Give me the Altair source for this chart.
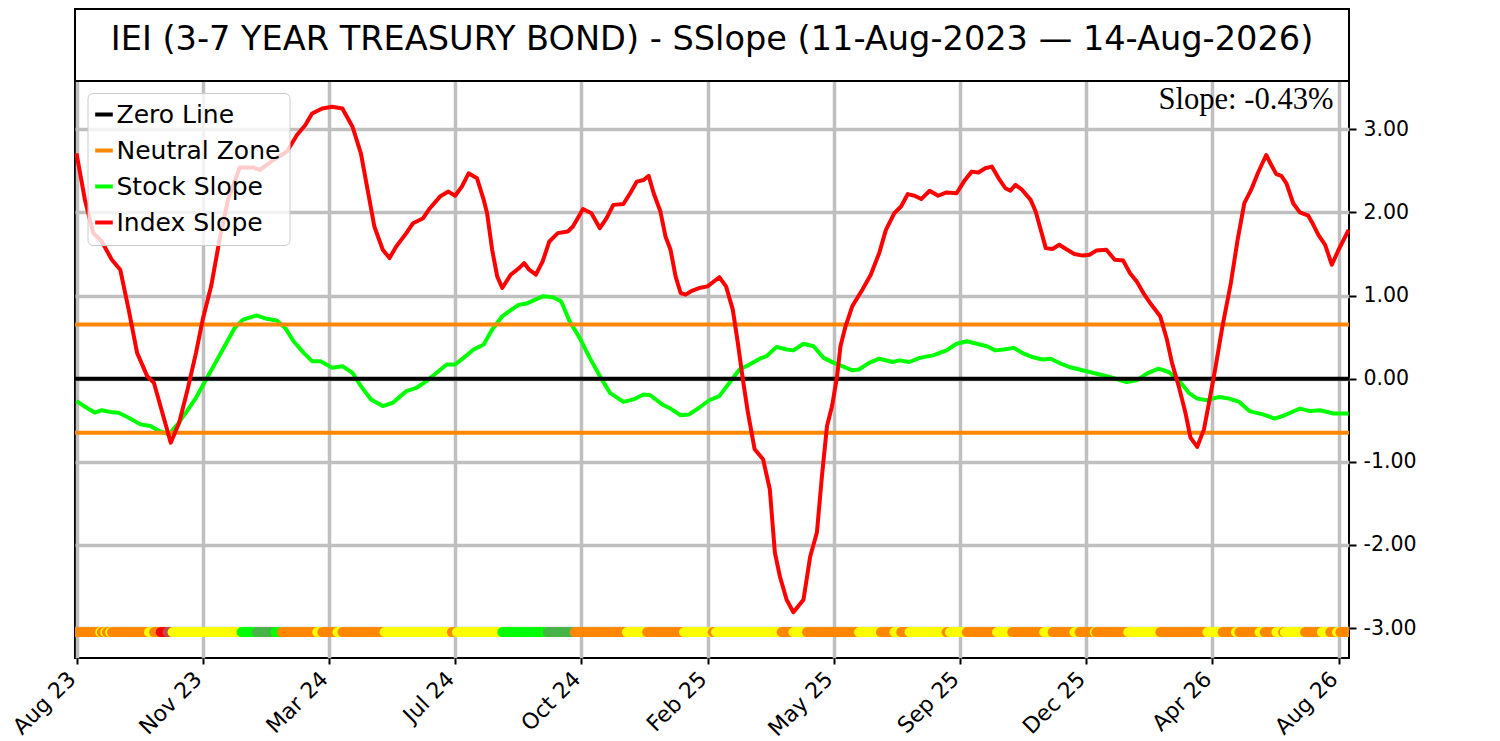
import json
import altair as alt
import pandas as pd

TITLE = "IEI (3-7 YEAR TREASURY BOND) - SSlope (11-Aug-2023 \u2014 14-Aug-2026)"
SLOPE_TEXT = "Slope: -0.43%"

# trading-day index and slope values
INDEX_DAYS = [0, 5, 10, 15, 21, 26, 31, 36, 42, 46, 51, 56, 61, 66, 71, 75, 80, 85, 90, 97,
              105, 109, 117, 125, 131, 136, 140, 146, 152, 158, 164, 169, 173, 177, 182, 186, 190, 196, 200, 206,
              210, 216, 221, 225, 229, 233, 238, 242, 244, 247, 250, 253, 258, 263, 266, 269, 273, 277, 281, 286,
              292, 295, 301, 306, 311, 315, 319, 325, 329, 333, 337, 340, 343, 347, 350, 353, 356, 359, 362, 366,
              370, 375, 382, 386, 390, 393, 396, 399, 403, 408, 412, 415, 418, 422, 426, 432, 436, 440, 443, 446,
              449, 452, 454, 457, 461, 467, 472, 477, 481, 486, 490, 494, 498, 502, 507, 512, 517, 523, 528, 532,
              536, 540, 544, 548, 552, 555, 558, 562, 567, 570, 573, 576, 580, 584, 588, 593, 598, 602, 606, 612,
              617, 622, 626, 630, 634, 638, 644, 648, 651, 655, 659, 662, 666, 670, 673, 677, 681, 686, 690, 694,
              698, 702, 707, 710, 713, 716, 719, 723, 727, 732, 735, 738, 742, 746, 750, 756]
INDEX_VALS = [2.71, 2.15, 1.75, 1.65, 1.43, 1.31, 0.83, 0.31, 0.03, -0.05, -0.41, -0.77, -0.53, -0.13, 0.31, 0.71, 1.11, 1.67, 2.15, 2.54,
              2.54, 2.51, 2.63, 2.73, 2.93, 3.05, 3.19, 3.25, 3.27, 3.25, 3.03, 2.71, 2.27, 1.83, 1.55, 1.45, 1.59, 1.75, 1.87, 1.93,
              2.05, 2.19, 2.25, 2.20, 2.31, 2.47, 2.41, 2.15, 1.99, 1.55, 1.23, 1.09, 1.25, 1.33, 1.39, 1.31, 1.25, 1.41, 1.65, 1.75,
              1.77, 1.83, 2.04, 1.99, 1.81, 1.93, 2.09, 2.10, 2.23, 2.37, 2.39, 2.44, 2.23, 2.01, 1.71, 1.55, 1.23, 1.03, 1.01, 1.06,
              1.09, 1.11, 1.22, 1.11, 0.83, 0.43, -0.01, -0.41, -0.85, -0.97, -1.33, -2.09, -2.38, -2.66, -2.81, -2.66, -2.14, -1.85, -1.17, -0.57,
              -0.33, 0.03, 0.39, 0.63, 0.87, 1.07, 1.25, 1.51, 1.79, 1.99, 2.07, 2.22, 2.20, 2.16, 2.26, 2.20, 2.24, 2.23, 2.39, 2.49,
              2.48, 2.53, 2.55, 2.41, 2.29, 2.26, 2.33, 2.27, 2.15, 2.01, 1.79, 1.57, 1.56, 1.61, 1.56, 1.50, 1.48, 1.49, 1.54, 1.55,
              1.43, 1.42, 1.27, 1.17, 1.03, 0.91, 0.75, 0.47, 0.19, -0.09, -0.41, -0.71, -0.82, -0.61, -0.29, 0.15, 0.63, 1.15, 1.67, 2.11,
              2.27, 2.47, 2.69, 2.57, 2.46, 2.44, 2.35, 2.11, 2.00, 1.96, 1.85, 1.73, 1.61, 1.37, 1.55, 1.79]

STOCK_DAYS = [0, 6, 11, 15, 20, 25, 31, 38, 44, 49, 55, 60, 65, 71, 77, 82, 88, 94, 99, 107,
              113, 119, 124, 129, 135, 140, 145, 152, 158, 164, 169, 175, 182, 188, 196, 202, 208, 214, 220, 225,
              230, 236, 242, 247, 253, 257, 263, 267, 277, 283, 288, 293, 299, 305, 311, 317, 325, 331, 337, 341,
              348, 353, 359, 364, 370, 376, 382, 388, 394, 400, 406, 410, 416, 422, 426, 432, 438, 444, 450, 455,
              461, 465, 471, 477, 485, 489, 495, 501, 509, 517, 523, 529, 535, 541, 546, 551, 557, 562, 568, 574,
              579, 585, 590, 596, 602, 608, 614, 624, 630, 636, 643, 649, 655, 661, 666, 672, 679, 685, 691, 697,
              705, 712, 718, 727, 733, 739, 747, 756]
STOCK_VALS = [-0.27, -0.35, -0.41, -0.38, -0.40, -0.41, -0.47, -0.55, -0.57, -0.63, -0.67, -0.55, -0.41, -0.23, -0.01, 0.17, 0.39, 0.61, 0.71, 0.76,
              0.72, 0.70, 0.61, 0.45, 0.31, 0.21, 0.21, 0.13, 0.15, 0.07, -0.09, -0.25, -0.33, -0.29, -0.15, -0.11, -0.03, 0.07, 0.17, 0.17,
              0.25, 0.35, 0.41, 0.59, 0.75, 0.81, 0.89, 0.90, 0.99, 0.98, 0.93, 0.69, 0.49, 0.25, 0.03, -0.17, -0.28, -0.25, -0.19, -0.20,
              -0.31, -0.36, -0.44, -0.43, -0.35, -0.26, -0.21, -0.05, 0.11, 0.17, 0.24, 0.27, 0.38, 0.35, 0.34, 0.42, 0.39, 0.25, 0.19, 0.15,
              0.10, 0.11, 0.19, 0.24, 0.20, 0.22, 0.20, 0.25, 0.28, 0.34, 0.42, 0.45, 0.42, 0.39, 0.34, 0.35, 0.37, 0.31, 0.26, 0.23,
              0.24, 0.18, 0.14, 0.11, 0.08, 0.05, 0.02, -0.04, -0.02, 0.06, 0.12, 0.08, -0.02, -0.17, -0.24, -0.26, -0.22, -0.24, -0.28, -0.39,
              -0.43, -0.48, -0.44, -0.36, -0.39, -0.38, -0.42, -0.42]

ZERO_LEVEL = 0.0
NEUTRAL_LEVEL = 0.65
SERIES = ["Zero Line", "Neutral Zone", "Stock Slope", "Index Slope"]
SERIES_COLORS = ["#000000", "#FF8800", "#00FF00", "#FF0000"]

# signal strip: colour runs (first trading day of each run)
STRIP_LEVEL = -3.05
LAST_DAY = 756
ORANGE, YELLOW, LIME, GREEN, RED, BROWN = "#FF8800", "#FFFF00", "#00FF00", "#47B447", "#FF0000", "#C44848"
RUN_STARTS = [0, 14, 15, 17, 18, 20, 21, 43, 46, 50, 54, 57, 98, 107, 118, 122, 143, 146, 155, 158,
              183, 223, 226, 253, 280, 296, 327, 339, 361, 378, 380, 419, 426, 434, 465, 478, 486, 490, 495, 517,
              519, 529, 547, 556, 575, 580, 593, 596, 605, 606, 625, 644, 672, 681, 689, 691, 703, 706, 713, 717,
              718, 730, 740, 745, 749, 751]
RUN_COLORS = [ORANGE, YELLOW, ORANGE, YELLOW, ORANGE, YELLOW, ORANGE, YELLOW, ORANGE, RED, BROWN, YELLOW, LIME, GREEN, LIME, ORANGE, YELLOW, ORANGE, YELLOW, ORANGE,
              YELLOW, ORANGE, YELLOW, LIME, GREEN, ORANGE, YELLOW, ORANGE, YELLOW, ORANGE, YELLOW, ORANGE, YELLOW, ORANGE, YELLOW, ORANGE, YELLOW, ORANGE, YELLOW, ORANGE,
              YELLOW, ORANGE, YELLOW, ORANGE, YELLOW, ORANGE, YELLOW, ORANGE, YELLOW, ORANGE, YELLOW, ORANGE, YELLOW, ORANGE, YELLOW, ORANGE, YELLOW, ORANGE, YELLOW, ORANGE,
              YELLOW, ORANGE, YELLOW, ORANGE, YELLOW, ORANGE]

TICK_DAYS = [0, 75, 150, 225, 300, 375, 450, 525, 600, 675, 750]
X_LABELS = ["Aug 23", "Nov 23", "Mar 24", "Jul 24", "Oct 24", "Feb 25", "May 25", "Sep 25", "Dec 25", "Apr 26", "Aug 26"]
Y_TICKS = [-3, -2, -1, 0, 1, 2, 3]
Y_LABELS = ["-3.00", "-2.00", "-1.00", "0.00", "1.00", "2.00", "3.00"]

W, H = 1274, 577
X_DOMAIN = [-0.9, 756.2]
Y_DOMAIN = [-3.36, 3.58]

# ---- tables ----
index_df = pd.DataFrame({"day": INDEX_DAYS, "value": INDEX_VALS, "series": "Index Slope"})
stock_df = pd.DataFrame({"day": STOCK_DAYS, "value": STOCK_VALS, "series": "Stock Slope"})
rules_df = pd.DataFrame({"value": [ZERO_LEVEL, NEUTRAL_LEVEL, -NEUTRAL_LEVEL],
                         "series": ["Zero Line", "Neutral Zone", "Neutral Zone"]})
dot_days, dot_cols = [], []
for k, start in enumerate(RUN_STARTS):
    end = RUN_STARTS[k + 1] if k + 1 < len(RUN_STARTS) else LAST_DAY + 1
    for d in range(start, end):
        dot_days.append(d)
        dot_cols.append(RUN_COLORS[k])
dots_df = pd.DataFrame({"day": dot_days, "value": STRIP_LEVEL, "col": dot_cols})

FONT = "DejaVu Sans"
x_label_expr = f"{json.dumps(X_LABELS)}[indexof({json.dumps(TICK_DAYS)}, datum.value)]"
y_label_expr = f"{json.dumps(Y_LABELS)}[indexof({json.dumps(Y_TICKS)}, datum.value)]"

x_enc = alt.X("day:Q", scale=alt.Scale(domain=X_DOMAIN, nice=False, zero=False),
              axis=alt.Axis(values=TICK_DAYS, labelExpr=x_label_expr, labelAngle=315,
                            labelAlign="right", labelBaseline="top", labelFontSize=22,
                            labelFont=FONT, labelColor="black", labelPadding=4, labelOffset=-12,
                            labelOverlap=False, labelBound=False, labelFlush=False,
                            tickColor="black", tickSize=6, tickWidth=2, domain=False,
                            grid=True, gridColor="#BFBFBF", gridWidth=3.5, gridOpacity=1, title=None))
y_scale = alt.Scale(domain=Y_DOMAIN, nice=False, zero=False)
y_enc = alt.Y("value:Q", scale=y_scale,
              axis=alt.Axis(orient="right", values=Y_TICKS, labelExpr=y_label_expr, labelFontSize=20.5,
                            labelFont=FONT, labelColor="black", labelPadding=7, labelOverlap=False,
                            labelFlush=False, labelBound=False,
                            tickColor="black", tickSize=7, tickWidth=2, domain=False,
                            grid=True, gridColor="#BFBFBF", gridWidth=3.5, gridOpacity=1, title=None))

legend_opts = dict(orient="none", legendX=12.5, legendY=12, direction="vertical",
                   symbolType="M-1.76,0H1.76", symbolSize=100, symbolStrokeWidth=4,
                   labelFontSize=25, labelFont=FONT, labelColor="black",
                   labelOffset=0, labelLimit=500, rowPadding=10, padding=9,
                   fillColor="rgba(255,255,255,0.8)", strokeColor="#CCCCCC", cornerRadius=5)
try:
    legend = alt.Legend(symbolOffset=-5, **legend_opts)
except Exception:
    legend = alt.Legend(**legend_opts)

color_enc = alt.Color("series:N", scale=alt.Scale(domain=SERIES, range=SERIES_COLORS), title=None,
                      legend=legend)

rules = alt.Chart(rules_df).mark_rule(strokeWidth=4).encode(y=alt.Y("value:Q", scale=y_scale), color=color_enc)
stock_line = alt.Chart(stock_df).mark_line(strokeWidth=4, strokeJoin="round").encode(
    x=x_enc, y=y_enc, color=color_enc)
index_line = alt.Chart(index_df).mark_line(strokeWidth=4, strokeJoin="round").encode(
    x=alt.X("day:Q", scale=alt.Scale(domain=X_DOMAIN, nice=False, zero=False)),
    y=alt.Y("value:Q", scale=y_scale), color=color_enc)
dots = alt.Chart(dots_df).mark_circle(size=95, opacity=1, clip=True).encode(
    x=alt.X("day:Q", scale=alt.Scale(domain=X_DOMAIN, nice=False, zero=False)),
    y=alt.Y("value:Q", scale=y_scale),
    color=alt.Color("col:N", scale=None))

title_df = pd.DataFrame({"t": [TITLE]})
title_box = alt.Chart(title_df).mark_rect(fill="white", stroke="black", strokeWidth=2).encode(
    x=alt.value(0), x2=alt.value(W), y=alt.value(-72), y2=alt.value(0))
title_text = alt.Chart(title_df).mark_text(font=FONT, fontSize=33.6, color="black",
                                           align="center", baseline="middle").encode(
    x=alt.value(W / 2), y=alt.value(-41), text="t:N")
slope_df = pd.DataFrame({"t": [SLOPE_TEXT]})
slope_text = alt.Chart(slope_df).mark_text(font="Liberation Serif", fontSize=30.6, color="black",
                                           align="right", baseline="alphabetic").encode(
    x=alt.value(1258.5), y=alt.value(28), text="t:N")

chart = alt.layer(stock_line, rules, index_line, dots, title_box, title_text, slope_text).properties(
    width=W, height=H, padding={"left": 0, "top": 0, "right": 5, "bottom": 0}
).configure_view(stroke="black", strokeWidth=2)

chart.save("out.html", embed_options={"renderer": "svg", "actions": False})
